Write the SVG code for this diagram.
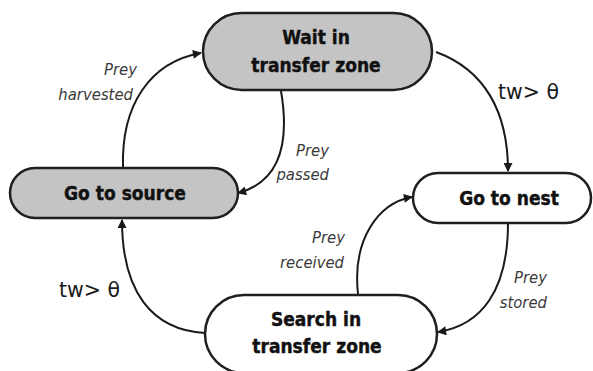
<svg xmlns="http://www.w3.org/2000/svg" width="593" height="371" viewBox="0 0 593 371">
<defs>
<marker id="ah" viewBox="0 0 10 10" refX="9" refY="5" markerWidth="10" markerHeight="9" markerUnits="userSpaceOnUse" orient="auto">
<path d="M0,0 L10,5 L0,10 Z" fill="#1a1a1a"/>
</marker>
<style>
.node{stroke:#1f1f1f;stroke-width:2.5}
.gray{fill:#c4c4c4}
.white{fill:#ffffff}
.nt{font-family:"DejaVu Sans Condensed","DejaVu Sans",sans-serif;font-stretch:condensed;font-weight:bold;font-size:19px;fill:#111;stroke:#111;stroke-width:0.4;text-anchor:middle}
.lbl{font-family:"DejaVu Sans Condensed","DejaVu Sans",sans-serif;font-stretch:condensed;font-style:italic;font-size:16.5px;fill:#3a3a3a;text-anchor:end}
.tw{font-family:"DejaVu Sans",sans-serif;font-size:20.5px;fill:#1a1a1a}
.edge{fill:none;stroke:#1a1a1a;stroke-width:2;marker-end:url(#ah)}
</style>
</defs>
<rect width="593" height="371" fill="#ffffff"/>
<g id="connectors">
<path class="edge" d="M123,168 C121,105 150,62 201,53"/>
<path class="edge" d="M281,91 C291,150 276,183 238,193"/>
<path class="edge" d="M436,52 C485,70 508,112 508,171"/>
<path class="edge" d="M508,223 C508,290 482,325 438,332"/>
<path class="edge" d="M205,333 C152,330 122,292 122,220"/>
<path class="edge" d="M358,294 C352,240 378,203 412,197"/>
</g>
<g id="labels">
<text class="lbl" x="137" y="75">Prey</text>
<text class="lbl" x="133" y="100">harvested</text>
<text class="lbl" x="329" y="156">Prey</text>
<text class="lbl" x="329" y="180">passed</text>
<text class="lbl" x="345" y="243">Prey</text>
<text class="lbl" x="344" y="268">received</text>
<text class="lbl" x="547" y="283">Prey</text>
<text class="lbl" x="547" y="308">stored</text>
<text class="tw" x="498" y="99">tw&gt; θ</text>
<text class="tw" x="59" y="297">tw&gt; θ</text>
</g>
<g id="wait">
<rect class="node gray" x="203" y="13" width="229" height="77" rx="38.5"/>
<text class="nt" x="316" y="43.5">Wait in</text>
<text class="nt" x="316" y="72">transfer zone</text>
</g>
<g id="source">
<rect class="node gray" x="10" y="168" width="228" height="50" rx="25"/>
<text class="nt" x="125" y="200">Go to source</text>
</g>
<g id="nest">
<rect class="node white" x="413" y="173" width="178" height="50" rx="25"/>
<text class="nt" x="509" y="205">Go to nest</text>
</g>
<g id="search">
<rect class="node white" x="205" y="295" width="232" height="78" rx="39"/>
<text class="nt" x="316" y="325.5">Search in</text>
<text class="nt" x="317" y="353">transfer zone</text>
</g>
</svg>
